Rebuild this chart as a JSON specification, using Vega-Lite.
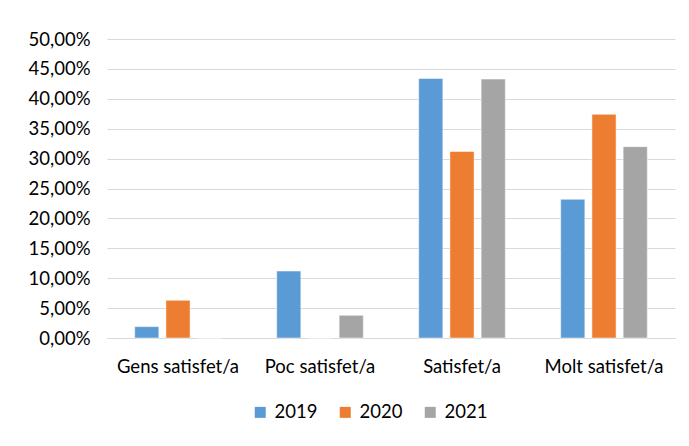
{
  "$schema": "https://vega.github.io/schema/vega-lite/v6.json",
  "autosize": "none",
  "width": 568,
  "height": 299,
  "padding": {"left": 107, "top": 39, "right": 14, "bottom": 108},
  "background": "white",
  "data": {
    "values": [
      {"cat": "Gens satisfet/a", "year": "2019", "value": 0.019},
      {"cat": "Gens satisfet/a", "year": "2020", "value": 0.063},
      {"cat": "Gens satisfet/a", "year": "2021", "value": 0.0},
      {"cat": "Poc satisfet/a", "year": "2019", "value": 0.112},
      {"cat": "Poc satisfet/a", "year": "2020", "value": 0.0},
      {"cat": "Poc satisfet/a", "year": "2021", "value": 0.038},
      {"cat": "Satisfet/a", "year": "2019", "value": 0.434},
      {"cat": "Satisfet/a", "year": "2020", "value": 0.312},
      {"cat": "Satisfet/a", "year": "2021", "value": 0.433},
      {"cat": "Molt satisfet/a", "year": "2019", "value": 0.232},
      {"cat": "Molt satisfet/a", "year": "2020", "value": 0.374},
      {"cat": "Molt satisfet/a", "year": "2021", "value": 0.320}
    ]
  },
  "mark": {"type": "bar", "stroke": "white", "strokeWidth": 0.5},
  "encoding": {
    "x": {
      "field": "cat", "type": "nominal",
      "sort": ["Gens satisfet/a", "Poc satisfet/a", "Satisfet/a", "Molt satisfet/a"],
      "scale": {"paddingInner": 0.39, "paddingOuter": 0.195},
      "axis": {"title": null, "labelAngle": 0, "ticks": false, "domainColor": "#d9d9d9", "domainWidth": 1, "labelPadding": 19, "labelFontSize": 18.5, "labelColor": "#000000", "labelFont": "Lato"}
    },
    "xOffset": {
      "field": "year", "type": "nominal",
      "scale": {"paddingInner": 0.226, "paddingOuter": 0}
    },
    "y": {
      "field": "value", "type": "quantitative",
      "scale": {"domain": [0, 0.5]},
      "axis": {"title": null, "format": ".2%", "values": [0, 0.05, 0.1, 0.15, 0.2, 0.25, 0.3, 0.35, 0.4, 0.45, 0.5], "domain": false, "ticks": false, "gridColor": "#d9d9d9", "gridWidth": 1, "labelPadding": 17, "labelFontSize": 18.5, "labelColor": "#000000", "labelFont": "Lato"}
    },
    "color": {
      "field": "year", "type": "nominal",
      "scale": {"domain": ["2019", "2020", "2021"], "range": ["#5b9bd5", "#ed7d31", "#a5a5a5"]},
      "legend": {"title": null, "orient": "none", "legendX": 144, "legendY": 364, "direction": "horizontal", "symbolType": "square", "symbolSize": 121, "symbolStrokeWidth": 0, "labelFontSize": 18.5, "labelFont": "Lato", "labelColor": "#000000", "columnPadding": 18, "labelOffset": 5}
    }
  },
  "config": {
    "locale": {"number": {"decimal": ",", "thousands": ".", "grouping": [3], "currency": ["", " €"]}},
    "view": {"stroke": null}
  }
}
